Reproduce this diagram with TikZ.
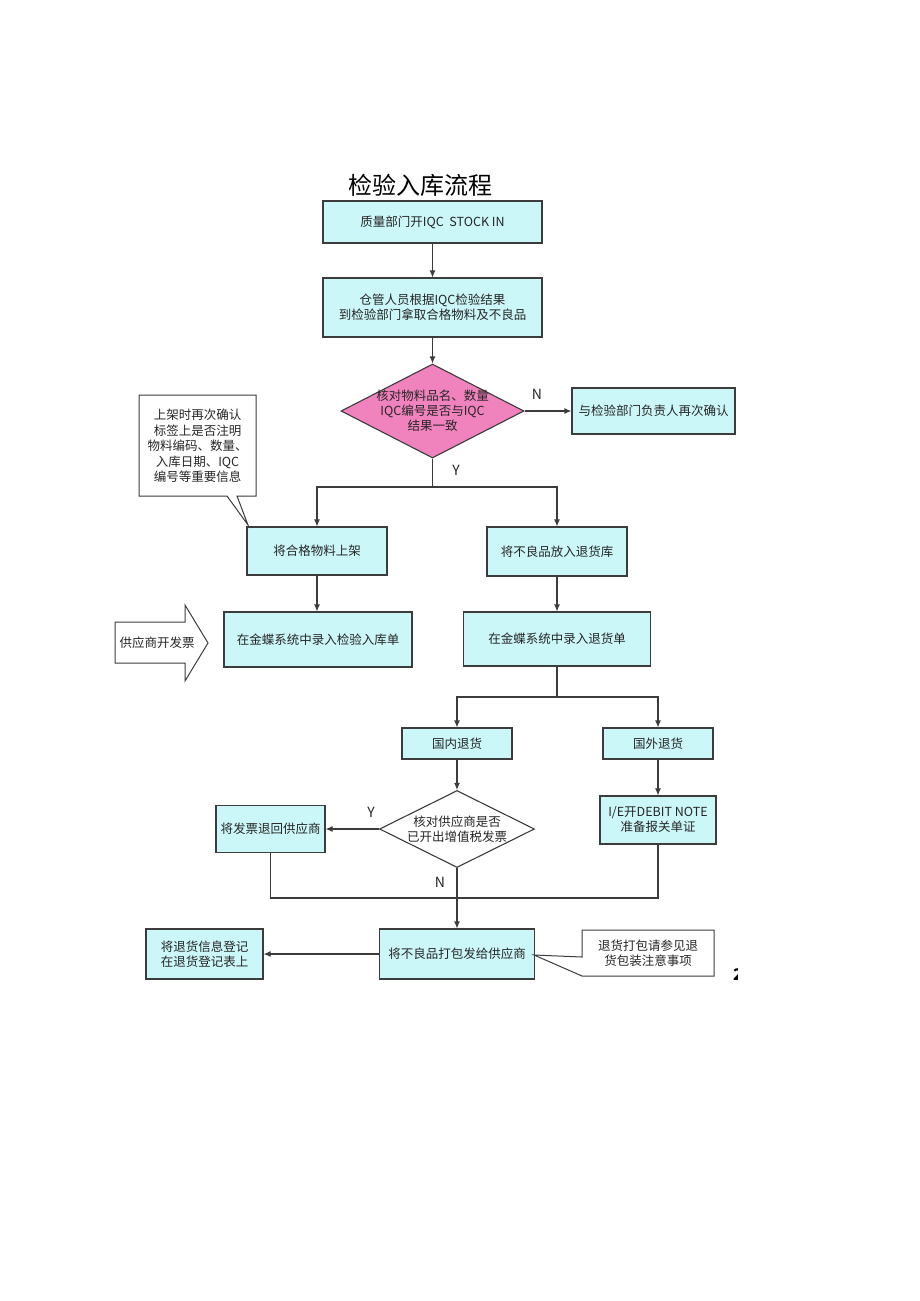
\documentclass[tikz,border=0pt]{standalone}
\usepackage{fontspec}
\setmainfont{Noto Sans CJK SC}
\usetikzlibrary{shapes.geometric,arrows.meta}
\definecolor{cy}{RGB}{204,247,248}
\definecolor{pk}{RGB}{240,130,190}
\definecolor{ln}{RGB}{60,60,60}
\newcommand\myfs{\fontsize{12.5}{15}\selectfont}
\tikzset{
  bx/.style={draw=ln, line width=1.1pt, fill=cy, inner sep=0pt, align=center, font=\myfs, text=black!85},
  dia/.style={draw=ln, line width=1.1pt, shape=diamond, inner sep=0pt},
  txt/.style={inner sep=0pt, align=center, font=\myfs, text=black!85},
  lbl/.style={inner sep=0pt, font=\fontsize{14}{16}\selectfont, text=black!85},
  con/.style={draw=ln, line width=1.1pt},
  arr/.style={con, -{Latex[length=7pt,width=6pt]}},
  callout/.style={draw=ln, line width=1pt, fill=white},
}
\begin{document}
\begin{tikzpicture}[x=1pt,y=-1pt]
\useasboundingbox[fill=white] (0,0) rectangle (920,1301);

% title
\node[inner sep=0pt, font=\fontsize{24}{28}\selectfont] (title) at (420,185) {检验入库流程};

% boxes
\node[bx, minimum width=219, minimum height=42] (n1) at (432.5,222) {质量部门开IQC\ \ STOCK IN};
\node[bx, minimum width=219, minimum height=59] (n2) at (432.5,307.5) {仓管人员根据IQC检验结果\\到检验部门拿取合格物料及不良品};
\node[dia, fill=pk, minimum width=183, minimum height=94] (d1) at (432.5,411) {};
\node[txt] (d1t) at (d1.center) {核对物料品名、数量\\IQC编号是否与IQC\\结果一致};
\node[bx, minimum width=163, minimum height=46] (n3) at (653.5,411) {与检验部门负责人再次确认};

\node[bx, minimum width=140, minimum height=48] (n4) at (317,551) {将合格物料上架};
\node[bx, minimum width=140, minimum height=49] (n5) at (557,551.5) {将不良品放入退货库};

\node[bx, minimum width=188, minimum height=55] (n6) at (318,639.5) {在金蝶系统中录入检验入库单};
\node[bx, minimum width=187, minimum height=54] (n7) at (557,639) {在金蝶系统中录入退货单};

\node[bx, minimum width=110, minimum height=31] (n8) at (457,743.5) {国内退货};
\node[bx, minimum width=110, minimum height=31] (n9) at (658,743.5) {国外退货};

\node[dia, fill=white, minimum width=155, minimum height=77] (d2) at (457,829) {};
\node[txt] (d2t) at (d2.center) {核对供应商是否\\已开出增值税发票};
\node[bx, minimum width=109, minimum height=47] (n10) at (270.5,829) {将发票退回供应商};
\node[bx, minimum width=116, minimum height=48] (n11) at (658,820) {I/E开DEBIT NOTE\\准备报关单证};

\node[bx, minimum width=155, minimum height=50] (n12) at (457,954) {将不良品打包发给供应商};
\node[bx, minimum width=117, minimum height=50] (n13) at (204.5,954) {将退货信息登记\\在退货登记表上};

% callout 1
\draw[callout] (139,395) -- (256,395) -- (256,496) -- (237,496) -- (248,525) -- (227,496) -- (139,496) -- cycle;
\node[txt, font=\fontsize{12.5}{15.5}\selectfont] (c1) at (197.5,446) {上架时再次确认\\标签上是否注明\\物料编码、数量、\\入库日期、IQC\\编号等重要信息};

% callout 2
\draw[callout] (582,930) -- (714,930) -- (714,976) -- (582,976) -- (534,955) -- (582,957) -- cycle;
\node[txt] (c2) at (648,953) {退货打包请参见退\\货包装注意事项};

% big arrow
\draw[callout] (115,622) -- (185,622) -- (185,605) -- (208,643) -- (185,681) -- (185,663) -- (115,663) -- cycle;
\node[txt] (inv) at (157,643) {供应商开发票};

% connectors
\draw[arr] (n1.south) -- (n2.north);
\draw[arr] (n2.south) -- (d1.north);
\draw[arr] (d1.east) -- (n3.west);
\node[lbl] (lN1) at (537,394) {N};
\coordinate (j1) at (432.5,487);
\draw[con] (d1.south) -- (j1);
\draw[arr] (j1) -| (n4.north);
\draw[arr] (j1) -| (n5.north);
\node[lbl] (lY1) at (456,470) {Y};

\draw[arr] (n4.south) -- (n4.south |- n6.north);
\draw[arr] (n5.south) -- (n7.north);

\coordinate (j2) at (557,697);
\draw[con] (n7.south) -- (j2);
\draw[arr] (j2) -| (n8.north);
\draw[arr] (j2) -| (n9.north);

\draw[arr] (n8.south) -- (d2.north);
\draw[arr] (d2.west) -- (n10.east);
\node[lbl] (lY2) at (371,812) {Y};
\draw[arr] (n9.south) -- (n11.north);

\coordinate (m) at (457,898);
\draw[con] (n10.south) |- (m) -| (n11.south);
\draw[arr] (d2.south) -- (n12.north);
\node[lbl] (lN2) at (440,882) {N};

\draw[arr] (n12.west) -- (n13.east);

% cut-off page number
\begin{scope}
\clip (720,955) rectangle (737,995);
\node[inner sep=0pt, font=\fontsize{16}{18}\selectfont\bfseries] (pg) at (738,975) {2};
\end{scope}
\end{tikzpicture}
\end{document}
